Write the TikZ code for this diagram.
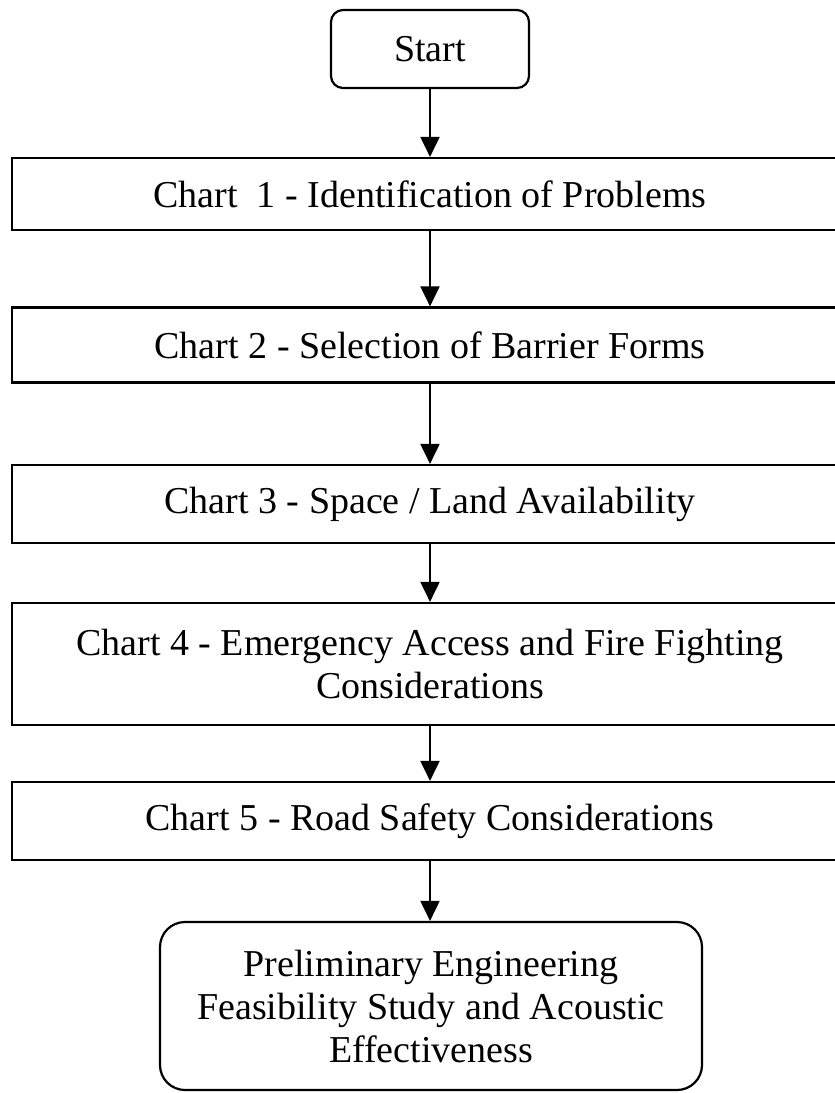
\documentclass[tikz,border=0pt]{standalone}
\usepackage{fontspec}
\setmainfont{Liberation Serif}
\usetikzlibrary{arrows.meta}
\begin{document}
\begin{tikzpicture}[x=1pt,y=-1pt,
  box/.style={draw, line width=2.2pt, inner sep=0pt, align=center, font=\fontsize{38}{43}\selectfont},
  chart/.style={box, minimum width=836pt},
  flow/.style={-{Triangle[length=20pt,width=19pt]}, line width=2pt}]
\useasboundingbox (0,0) rectangle (835,1093);
\clip (0,0) rectangle (835,1093);
\node[box, rounded corners=12pt, minimum width=198pt, minimum height=78pt] (start) at (430,49) {Start};
\node[chart, minimum height=72pt] (c1) at (430,194) {Chart\ \ 1 - Identification of Problems};
\node[chart, minimum height=75pt] (c2) at (430,345) {Chart 2 - Selection of Barrier Forms};
\node[chart, minimum height=78pt] (c3) at (430,504) {Chart 3 - Space / Land Availability};
\node[chart, minimum height=122pt] (c4) at (430,664) {Chart 4 - Emergency Access and Fire Fighting\\Considerations};
\node[chart, minimum height=78pt] (c5) at (430,821) {Chart 5 - Road Safety Considerations};
\node[box, rounded corners=25pt, minimum width=542pt, minimum height=168pt] (end) at (431,1006) {Preliminary Engineering\\Feasibility Study and Acoustic\\Effectiveness};
\draw[flow] (start.south) -- (c1.north -| start.south);
\draw[flow] (c1.south -| start.south) -- (c2.north -| start.south);
\draw[flow] (c2.south -| start.south) -- (c3.north -| start.south);
\draw[flow] (c3.south -| start.south) -- (c4.north -| start.south);
\draw[flow] (c4.south -| start.south) -- (c5.north -| start.south);
\draw[flow] (c5.south -| start.south) -- (end.north -| start.south);
\end{tikzpicture}
\end{document}
